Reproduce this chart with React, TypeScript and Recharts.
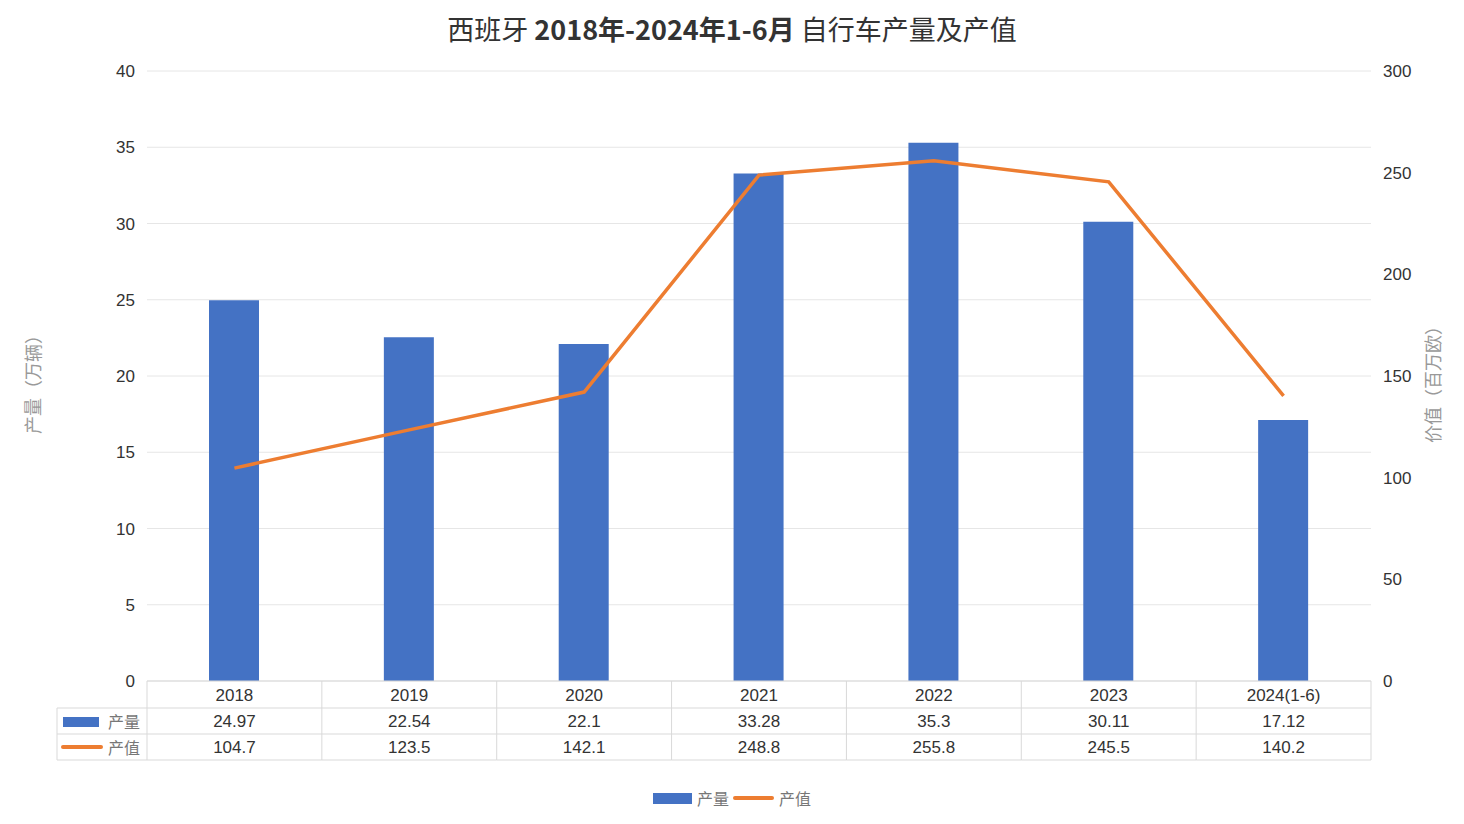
import { ComposedChart, Bar, Line, XAxis, YAxis, CartesianGrid } from 'recharts';

const years = ['2018', '2019', '2020', '2021', '2022', '2023', '2024(1-6)'];
const output = [24.97, 22.54, 22.1, 33.28, 35.3, 30.11, 17.12];
const value = [104.7, 123.5, 142.1, 248.8, 255.8, 245.5, 140.2];
const leftTicks = [0, 5, 10, 15, 20, 25, 30, 35, 40];
const rightTicks = [0, 50, 100, 150, 200, 250, 300];

const data = years.map((y, i) => ({ year: y, output: output[i], value: value[i] }));

const W = 1464;
const H = 824;
const PL = 147;
const PR = 1371;
const PT = 71;
const PB = 681;
const band = (PR - PL) / years.length;
const BLUE = '#4472C4';
const ORANGE = '#ED7D31';
const GRID = '#d9d9d9';
const NUM_FONT = '"Liberation Sans", Arial, sans-serif';
const CJK_FONT = '"Noto Sans CJK SC", sans-serif';

function TableTick(props: any) {
  const { x, index, payload } = props;
  const left = x - band / 2;
  const txt = { fontSize: 17, fill: '#333', fontFamily: NUM_FONT, textAnchor: 'middle' as const, dominantBaseline: 'central' as const };
  return (
    <g>
      <line x1={left + band} y1={PB} x2={left + band} y2={760} stroke={GRID} />
      <line x1={left} y1={708} x2={left + band} y2={708} stroke={GRID} />
      <line x1={left} y1={734} x2={left + band} y2={734} stroke={GRID} />
      <line x1={left} y1={760} x2={left + band} y2={760} stroke={GRID} />
      {index === 0 && (
        <g>
          <line x1={left} y1={PB} x2={left} y2={760} stroke={GRID} />
          <line x1={57} y1={708} x2={left} y2={708} stroke={GRID} />
          <line x1={57} y1={734} x2={left} y2={734} stroke={GRID} />
          <line x1={57} y1={760} x2={left} y2={760} stroke={GRID} />
          <line x1={57} y1={708} x2={57} y2={760} stroke={GRID} />
          <rect x={63} y={717} width={36} height={10} fill={BLUE} />
          <text x={108} y={721} fontSize={16} fill="#777" fontFamily={CJK_FONT} dominantBaseline="central">产量</text>
          <line x1={63} y1={747} x2={101} y2={747} stroke={ORANGE} strokeWidth={4} strokeLinecap="round" />
          <text x={108} y={747} fontSize={16} fill="#777" fontFamily={CJK_FONT} dominantBaseline="central">产值</text>
        </g>
      )}
      <text x={x} y={695} {...txt}>{payload.value}</text>
      <text x={x} y={721} {...txt}>{String(output[index])}</text>
      <text x={x} y={747} {...txt}>{String(value[index])}</text>
    </g>
  );
}

export default function App() {
  return (
    <div style={{ position: 'relative', width: W, height: H, background: '#fff' }}>
      <style>{'body{margin:0}'}</style>
      <div
        style={{
          position: 'absolute', top: 11, left: 0, width: W, textAlign: 'center',
          fontSize: 27, color: '#333', fontFamily: CJK_FONT, lineHeight: '36px',
        }}
      >
        西班牙 <b>2018年-2024年1-6月</b> 自行车产量及产值
      </div>
      <div
        style={{
          position: 'absolute', left: 32, top: 380, transform: 'translate(-50%,-50%) rotate(-90deg)',
          fontSize: 18, color: '#999', fontFamily: CJK_FONT, whiteSpace: 'nowrap',
        }}
      >
        产量（万辆）
      </div>
      <div
        style={{
          position: 'absolute', left: 1432, top: 380, transform: 'translate(-50%,-50%) rotate(-90deg)',
          fontSize: 18, color: '#999', fontFamily: CJK_FONT, whiteSpace: 'nowrap',
        }}
      >
        价值（百万欧）
      </div>
      <ComposedChart
        width={W}
        height={H}
        data={data}
        margin={{ top: PT, left: PL - 60, right: W - PR - 60, bottom: H - PB - 90 }}
        style={{ position: 'absolute', top: 0, left: 0 }}
      >
        <CartesianGrid vertical={false} stroke="#e6e6e6" yAxisId="left" />
        <XAxis
          dataKey="year"
          height={90}
          axisLine={{ stroke: GRID }}
          tickLine={false}
          tickSize={0}
          tickMargin={0}
          interval={0}
          tick={<TableTick />}
        />
        <YAxis
          yAxisId="left"
          width={60}
          domain={[0, 40]}
          ticks={leftTicks}
          axisLine={false}
          tickLine={false}
          tickSize={0}
          tickMargin={12}
          tick={{ fontSize: 17, fill: '#333', fontFamily: NUM_FONT }}
        />
        <YAxis
          yAxisId="right"
          orientation="right"
          width={60}
          domain={[0, 300]}
          ticks={rightTicks}
          axisLine={false}
          tickLine={false}
          tickSize={0}
          tickMargin={12}
          tick={{ fontSize: 17, fill: '#333', fontFamily: NUM_FONT }}
        />
        <Bar yAxisId="left" dataKey="output" name="产量" fill={BLUE} barSize={50} isAnimationActive={false} />
        <Line
          yAxisId="right"
          dataKey="value"
          name="产值"
          type="linear"
          stroke={ORANGE}
          strokeWidth={3.5}
          dot={false}
          activeDot={false}
          isAnimationActive={false}
        />
      </ComposedChart>
      <div
        style={{
          position: 'absolute', top: 786, left: 0, width: W, display: 'flex', justifyContent: 'center',
          alignItems: 'center', fontFamily: CJK_FONT, fontSize: 16, color: '#777',
        }}
      >
        <span style={{ display: 'inline-block', width: 39, height: 11, background: BLUE, marginRight: 5 }} />
        <span style={{ marginRight: 4 }}>产量</span>
        <span style={{ display: 'inline-block', width: 41, height: 4, borderRadius: 2, background: ORANGE, marginRight: 5 }} />
        <span>产值</span>
      </div>
    </div>
  );
}
